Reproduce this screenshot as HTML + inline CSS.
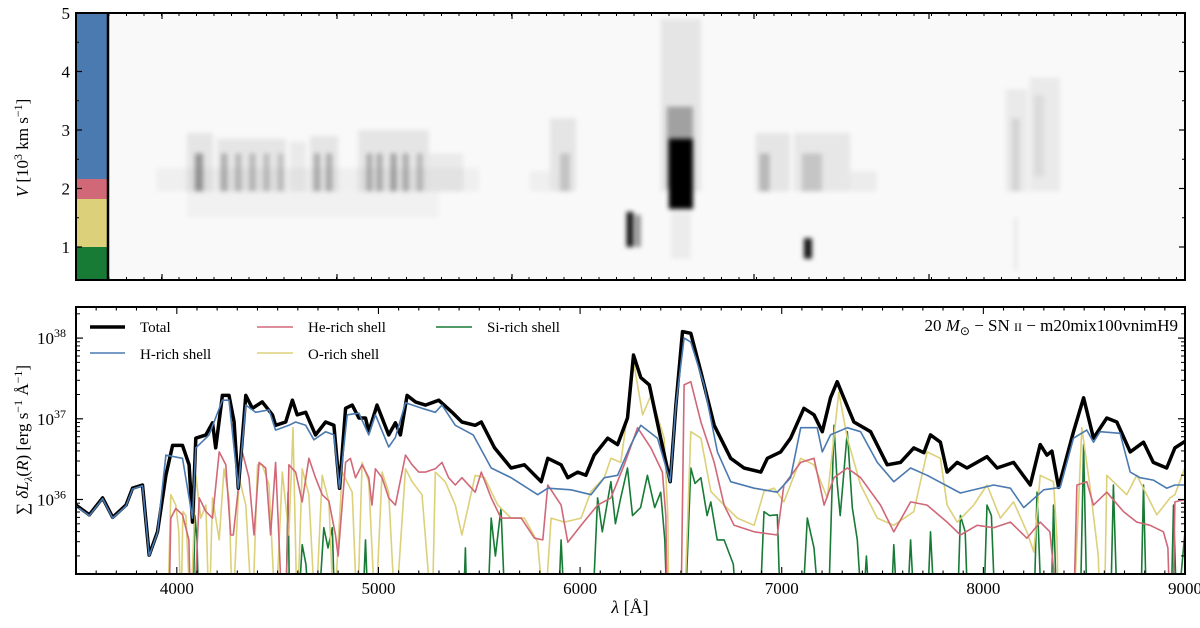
<!DOCTYPE html>
<html><head><meta charset="utf-8"><style>
html,body{margin:0;padding:0;background:#fff;}
svg{display:block;font-family:"Liberation Serif",serif;}
</style></head><body>
<svg id="fig" width="1200" height="628" viewBox="0 0 1200 628" xmlns="http://www.w3.org/2000/svg">
<defs>
<clipPath id="cpTop"><rect x="108" y="13" width="1077" height="267"/></clipPath>
<clipPath id="cpBot"><rect x="76" y="307" width="1109" height="267"/></clipPath>
<filter id="blur" filterUnits="userSpaceOnUse" x="0" y="0" width="1200" height="300"><feGaussianBlur stdDeviation="2.5"/></filter>
</defs>
<g id="top">
<rect x="76" y="13" width="1109" height="267" fill="#f9f9f9"/>
<g clip-path="url(#cpTop)"><g id="heat" filter="url(#blur)"></g></g>
<rect x="77" y="13" width="31" height="166" fill="#4a7ab0"/>
<rect x="77" y="179" width="31" height="20" fill="#d06878"/>
<rect x="77" y="199" width="31" height="48" fill="#ddd07a"/>
<rect x="77" y="247" width="31" height="33" fill="#177a35"/>
<line x1="108" y1="13" x2="108" y2="280" stroke="#000" stroke-width="2.5"/>
<g id="topTicks"></g>
<rect x="76" y="13" width="1109" height="267" fill="none" stroke="#000" stroke-width="2"/>
<text transform="translate(28,148) rotate(-90)" text-anchor="middle" font-size="17"><tspan font-style="italic">V</tspan> [10<tspan font-size="12" dy="-6">3</tspan><tspan dy="6"> km s</tspan><tspan font-size="12" dy="-6">−1</tspan><tspan dy="6">]</tspan></text>
</g>
<g id="bot">
<g id="series" clip-path="url(#cpBot)"></g>
<g id="botTicks"></g>
<rect x="76" y="307" width="1109" height="267" fill="none" stroke="#000" stroke-width="2"/>
<text x="630" y="613" text-anchor="middle" font-size="18"><tspan font-style="italic">λ</tspan> [Å]</text>
<text transform="translate(28,440) rotate(-90)" text-anchor="middle" font-size="17">∑ <tspan font-style="italic">δL</tspan><tspan font-size="11" dy="4" font-style="italic">λ</tspan><tspan dy="-4">(</tspan><tspan font-style="italic">R</tspan>) [erg s<tspan font-size="12" dy="-6">−1</tspan><tspan dy="6"> Å</tspan><tspan font-size="12" dy="-6">−1</tspan><tspan dy="6">]</tspan></text>
<text x="1178" y="331" text-anchor="end" font-size="17">20 <tspan font-style="italic">M</tspan><tspan font-size="12" dy="4">⊙</tspan><tspan dy="-4"> − SN </tspan><tspan font-size="12">II</tspan> − m20mix100vnimH9</text>
<g>
<g><line x1="90" y1="327" x2="125" y2="327" stroke="#000" stroke-width="3.5"/><text x="140" y="332" font-size="15">Total</text></g>
<g><line x1="90" y1="353" x2="125" y2="353" stroke="#4a7ab0" stroke-width="1.5"/><text x="140" y="359" font-size="15">H-rich shell</text></g>
<g><line x1="257" y1="327" x2="293" y2="327" stroke="#d06878" stroke-width="1.5"/><text x="308" y="332" font-size="15">He-rich shell</text></g>
<g><line x1="257" y1="353" x2="293" y2="353" stroke="#ddd07a" stroke-width="1.5"/><text x="308" y="359" font-size="15">O-rich shell</text></g>
<g><line x1="436" y1="327" x2="472" y2="327" stroke="#177a35" stroke-width="1.5"/><text x="487" y="332" font-size="15">Si-rich shell</text></g>
</g>
</g>
</svg>
<script>
const NS="http://www.w3.org/2000/svg";
// spectra: [wavelength Å, log10 luminosity]
const totalSeries=[[3500,35.93],[3566,35.81],[3632,36.02],[3682,35.78],[3748,35.93],[3780,36.14],[3830,36.18],[3863,35.31],[3904,35.60],[3946,36.30],[3979,36.67],[4028,36.67],[4061,36.43],[4078,35.72],[4094,36.76],[4144,36.80],[4177,36.95],[4193,36.64],[4226,37.29],[4259,37.29],[4284,36.96],[4305,36.14],[4342,37.29],[4375,37.13],[4424,37.21],[4474,37.05],[4490,36.92],[4540,36.96],[4573,37.23],[4597,37.05],[4639,37.08],[4688,36.80],[4738,36.96],[4779,36.92],[4807,36.14],[4837,37.13],[4870,37.17],[4903,37.01],[4936,37.01],[4952,36.84],[4993,37.17],[5018,37.01],[5051,36.80],[5084,36.95],[5109,36.80],[5142,37.29],[5183,37.21],[5233,37.17],[5266,37.20],[5299,37.23],[5365,37.08],[5414,36.96],[5480,36.92],[5510,36.96],[5576,36.64],[5658,36.39],[5724,36.43],[5807,36.22],[5840,36.51],[5906,36.43],[5939,36.27],[5988,36.34],[6029,36.30],[6070,36.55],[6137,36.76],[6186,36.68],[6235,37.01],[6265,37.79],[6301,37.51],[6343,37.42],[6400,36.76],[6447,36.22],[6475,37.17],[6508,38.08],[6549,38.06],[6599,37.58],[6665,36.92],[6747,36.51],[6813,36.39],[6896,36.34],[6929,36.51],[6995,36.59],[7044,36.76],[7110,37.13],[7160,37.05],[7201,36.84],[7242,37.26],[7275,37.46],[7308,37.26],[7358,36.96],[7441,36.84],[7523,36.43],[7589,36.46],[7655,36.64],[7705,36.58],[7738,36.80],[7787,36.71],[7820,36.34],[7870,36.46],[7919,36.39],[8018,36.53],[8068,36.39],[8150,36.46],[8233,36.18],[8282,36.68],[8315,36.55],[8340,36.60],[8373,36.15],[8447,36.84],[8497,37.26],[8546,36.76],[8612,37.01],[8662,36.96],[8728,36.59],[8794,36.71],[8843,36.46],[8909,36.39],[8950,36.64],[9000,36.72]];
const hRichSeries=[[3500,35.92],[3566,35.80],[3632,36.01],[3682,35.77],[3748,35.92],[3780,36.13],[3830,36.17],[3863,35.30],[3904,35.59],[3946,36.55],[4028,36.51],[4078,35.77],[4094,36.64],[4160,36.80],[4226,37.23],[4259,37.23],[4305,36.14],[4342,37.17],[4391,37.08],[4457,37.11],[4490,36.86],[4556,36.92],[4589,36.96],[4639,36.92],[4680,36.74],[4738,36.84],[4779,36.80],[4807,36.14],[4845,37.05],[4903,37.07],[4952,36.80],[4985,37.05],[5051,36.65],[5084,36.77],[5134,37.20],[5216,37.13],[5282,37.08],[5315,37.17],[5381,36.92],[5470,36.80],[5559,36.39],[5658,36.27],[5790,36.06],[5840,36.14],[5955,36.12],[6054,36.06],[6120,36.27],[6186,36.30],[6252,36.68],[6301,36.92],[6384,36.76],[6447,36.22],[6475,37.17],[6516,38.0],[6549,37.95],[6615,37.42],[6681,36.59],[6747,36.22],[6863,36.14],[6978,36.09],[7044,36.27],[7094,36.89],[7176,36.89],[7201,36.59],[7242,36.80],[7325,36.89],[7391,36.84],[7474,36.46],[7556,36.22],[7639,36.39],[7721,36.30],[7886,36.08],[8051,36.18],[8134,36.14],[8200,35.90],[8299,36.12],[8381,36.15],[8447,36.76],[8513,36.86],[8546,36.71],[8579,36.84],[8678,36.82],[8728,36.34],[8777,36.27],[8843,36.24],[8909,36.14],[8950,36.18],[9000,36.18]];
const heRichSeries=[[3960,34.5],[3970,35.77],[3995,35.89],[4028,35.81],[4060,35.5],[4069,34.5],[4085,34.5],[4111,36.02],[4144,35.85],[4177,35.77],[4210,36.59],[4243,36.43],[4267,35.56],[4280,35.56],[4325,36.59],[4358,36.27],[4383,35.56],[4408,36.46],[4441,36.39],[4465,35.56],[4490,36.46],[4510,35.3],[4523,34.5],[4540,34.5],[4556,36.43],[4589,36.34],[4622,35.97],[4655,36.51],[4688,36.27],[4721,36.06],[4754,35.98],[4787,35.56],[4800,35.3],[4837,36.46],[4861,36.51],[4886,36.27],[4919,36.43],[4952,36.27],[4968,35.93],[4985,36.38],[5018,36.27],[5051,36.02],[5084,35.93],[5134,36.55],[5167,36.43],[5200,36.34],[5233,36.34],[5282,36.38],[5315,36.46],[5348,36.27],[5381,36.18],[5414,36.27],[5480,36.09],[5510,36.34],[5559,36.02],[5608,35.77],[5708,35.77],[5774,35.52],[5815,35.50],[5840,36.18],[5906,35.93],[5939,35.47],[6005,35.68],[6087,35.93],[6153,36.02],[6219,36.43],[6285,36.89],[6351,36.64],[6408,36.34],[6425,35.8],[6433,34.5],[6500,34.5],[6516,37.42],[6549,37.46],[6599,36.96],[6665,36.46],[6714,35.93],[6764,35.68],[6863,35.60],[6978,35.56],[7011,36.18],[7094,36.46],[7160,36.51],[7210,35.93],[7259,36.27],[7325,36.39],[7391,36.27],[7490,35.93],[7556,35.60],[7639,35.97],[7721,35.93],[7820,35.72],[7886,35.56],[7969,35.68],[8051,35.65],[8134,35.72],[8216,35.52],[8282,35.72],[8330,35.6],[8373,34.5],[8447,34.5],[8464,36.18],[8513,36.22],[8546,35.93],[8612,36.09],[8695,35.85],[8761,35.72],[8827,35.68],[8893,35.60],[8915,35.4],[8926,34.5],[8940,34.5],[8950,35.97],[9000,36.0]];
const oRichSeries=[[3954,34.5],[3970,36.06],[3995,35.93],[4010,35.6],[4020,34.5],[4030,35.85],[4045,35.8],[4069,34.5],[4094,36.30],[4119,35.77],[4144,35.93],[4160,34.5],[4177,36.02],[4210,35.5],[4234,36.38],[4260,36.0],[4276,34.5],[4309,36.27],[4342,35.93],[4375,34.5],[4400,36.43],[4424,36.43],[4457,36.18],[4490,34.5],[4523,36.34],[4556,35.56],[4576,36.89],[4597,34.5],[4622,36.38],[4655,36.06],[4688,34.5],[4721,36.30],[4754,35.97],[4779,34.5],[4820,36.34],[4870,36.09],[4895,34.5],[4919,36.46],[4952,36.22],[4985,34.5],[5018,36.34],[5051,36.09],[5084,34.5],[5134,36.38],[5167,36.22],[5216,36.06],[5266,34.5],[5282,36.34],[5331,36.22],[5381,35.93],[5414,35.56],[5480,36.30],[5526,36.27],[5592,35.93],[5658,35.77],[5724,35.77],[5790,35.47],[5823,34.5],[5856,35.77],[5922,35.72],[6005,35.77],[6054,36.10],[6120,36.27],[6153,36.51],[6202,36.46],[6268,37.67],[6310,37.05],[6351,37.29],[6417,36.76],[6435,35.8],[6441,34.5],[6516,34.5],[6549,36.84],[6599,36.76],[6648,36.10],[6714,35.93],[6780,35.77],[6863,35.68],[6912,36.10],[6962,36.14],[7011,35.97],[7094,36.51],[7160,36.43],[7226,36.02],[7283,37.33],[7325,36.76],[7391,36.18],[7474,35.77],[7556,35.68],[7655,35.85],[7721,36.59],[7787,36.51],[7820,35.93],[7870,35.72],[7952,35.93],[8018,36.18],[8084,35.77],[8150,35.97],[8216,35.60],[8250,35.35],[8282,36.30],[8348,36.22],[8365,35.5],[8373,34.5],[8447,34.5],[8488,36.89],[8530,36.14],[8570,35.3],[8579,34.5],[8600,34.5],[8612,36.30],[8711,36.06],[8761,36.30],[8810,36.06],[8860,35.81],[8926,36.02],[8950,36.06],[9000,36.4]];
const siRichSeries=[[4080,34.5],[4090,35.8],[4100,35.5],[4110,34.5],[4540,34.5],[4552,36.09],[4560,34.5],[4600,34.5],[4622,35.44],[4640,35.2],[4660,34.5],[4700,34.5],[4729,35.65],[4750,35.4],[4771,35.65],[4785,34.5],[4920,34.5],[4936,35.5],[4950,34.5],[5420,34.5],[5431,35.4],[5440,34.5],[5540,34.5],[5559,35.77],[5580,35.3],[5608,35.89],[5630,34.5],[5890,34.5],[5906,35.5],[5925,34.5],[6060,34.5],[6087,36.02],[6110,35.6],[6153,36.22],[6175,35.7],[6200,36.0],[6235,36.39],[6260,35.8],[6300,35.9],[6334,36.30],[6370,35.9],[6400,36.09],[6420,35.5],[6433,34.5],[6520,34.5],[6549,36.39],[6570,36.2],[6599,36.27],[6630,35.8],[6648,35.97],[6680,35.5],[6714,35.5],[6760,35.2],[6780,34.5],[6890,34.5],[6912,35.85],[6940,35.8],[6978,35.81],[6995,34.5],[7100,34.5],[7127,35.77],[7160,35.4],[7190,34.5],[7230,34.5],[7259,36.92],[7275,36.2],[7290,35.8],[7325,36.84],[7350,35.9],[7375,35.5],[7400,34.5],[7420,35.3],[7440,34.5],[7540,34.5],[7556,35.44],[7575,34.5],[7620,34.5],[7639,35.5],[7660,34.5],[7720,34.5],[7738,35.6],[7760,34.5],[7870,34.5],[7886,35.8],[7910,35.6],[7925,34.5],[8000,34.5],[8018,35.93],[8040,35.8],[8060,34.5],[8250,34.5],[8266,36.09],[8290,34.5],[8335,34.5],[8348,35.93],[8365,34.5],[8480,34.5],[8497,36.68],[8515,34.5],[8630,34.5],[8645,36.18],[8665,34.5],[8780,34.5],[8794,36.18],[8810,34.5],[8930,34.5],[8943,35.93],[8960,34.5],[9000,35.6]];
const xTicks=[4000,5000,6000,7000,8000,9000];
const yDecades=[36,37,38];
const vTicks=[1,2,3,4,5];
// heatmap blobs: lambda start/end, V low/high, intensity
const blobLam0=[3900,4050,4090,4200,4220,4290,4360,4430,4500,4560,4660,4680,4740,4900,4940,4990,5060,5120,5190,5250,4050,5750,5850,5900,6230,6275,6400,6430,6440,6450,6870,6890,7060,7100,7340,7110,8110,8140,8230,8250,8150];
const blobLam1=[5500,4180,4130,4540,4250,4320,4390,4460,4530,4640,4800,4710,4770,5250,4970,5020,5090,5150,5220,5420,5300,5850,5980,5950,6265,6300,6600,6560,6560,6550,7040,6940,7340,7200,7470,7150,8220,8180,8380,8300,8170];
const blobV0=[1.95,1.95,1.95,1.95,1.95,1.95,1.95,1.95,1.95,1.95,1.95,1.95,1.95,1.95,1.95,1.95,1.95,1.95,1.95,1.95,1.5,1.95,1.95,1.95,1.0,1.0,1.95,2.0,1.65,0.8,1.95,1.95,1.95,1.95,1.95,0.8,1.95,1.95,1.95,2.2,0.6];
const blobV1=[2.35,2.95,2.6,2.85,2.6,2.6,2.6,2.6,2.6,2.8,2.9,2.6,2.6,3.0,2.6,2.6,2.6,2.6,2.6,2.6,1.95,2.3,3.2,2.6,1.6,1.55,4.9,3.4,2.85,1.6,2.95,2.6,2.95,2.6,2.3,1.15,3.7,3.2,3.9,3.6,1.5];
const blobI=[0.04,0.08,0.35,0.08,0.25,0.2,0.2,0.18,0.16,0.06,0.08,0.25,0.25,0.08,0.25,0.25,0.3,0.25,0.2,0.06,0.03,0.04,0.08,0.15,0.9,0.45,0.08,0.3,1.0,0.05,0.08,0.2,0.07,0.15,0.05,0.9,0.06,0.1,0.06,0.07,0.06];

const X=l=>76+(l-3500)*1109/5500;
const Y=v=>499.5-(v-36)*80.7;
const VY=v=>247-(v-1)*58.5;
function mk(tag,attrs,parent){const e=document.createElementNS(NS,tag);for(const k in attrs)e.setAttribute(k,attrs[k]);parent.appendChild(e);return e;}

const heat=document.getElementById('heat');
for(let i=0;i<blobLam0.length;i++){
  const x0=X(blobLam0[i]),x1=X(blobLam1[i]),y0=VY(blobV1[i]),y1=VY(blobV0[i]);
  const r=mk('rect',{x:x0,y:y0,width:x1-x0,height:y1-y0,fill:'#000','fill-opacity':blobI[i]},heat);
  
  
}

const tt=document.getElementById('topTicks');
for(const v of vTicks){
  const y=VY(v);
  const t=mk('text',{x:70,y:y+6,'text-anchor':'end','font-size':17},tt);t.textContent=v;
  
  
  mk('line',{x1:76,y1:y,x2:82,y2:y,stroke:'#000','stroke-width':1.2},tt);
  mk('line',{x1:1185,y1:y,x2:1179,y2:y,stroke:'#000','stroke-width':1.2},tt);
  if(v<5){mk('line',{x1:76,y1:y-29.25,x2:79,y2:y-29.25,stroke:'#000'},tt);mk('line',{x1:1185,y1:y-29.25,x2:1182,y2:y-29.25,stroke:'#000'},tt);}
}
for(let x=109;x<1185;x+=17.5){mk('line',{x1:x,y1:13,x2:x,y2:16,stroke:'#000'},tt);mk('line',{x1:x,y1:280,x2:x,y2:277,stroke:'#000'},tt);}
for(const x of [162,337,512,754,929]){mk('line',{x1:x,y1:13,x2:x,y2:19,stroke:'#000','stroke-width':1.2},tt);mk('line',{x1:x,y1:280,x2:x,y2:274,stroke:'#000','stroke-width':1.2},tt);}

const bt=document.getElementById('botTicks');
for(let l=3600;l<9000;l+=100){const x=X(l);const maj=l%1000===0;const h=maj?7:3.5;
  mk('line',{x1:x,y1:574,x2:x,y2:574-h,stroke:'#000','stroke-width':1.1},bt);mk('line',{x1:x,y1:307,x2:x,y2:307+h,stroke:'#000','stroke-width':1.1},bt);}
for(const l of xTicks){const t=mk('text',{x:X(l),y:594,'text-anchor':'middle','font-size':17},bt);t.textContent=l;
  
  }
for(const d of yDecades){const y=Y(d);
  mk('line',{x1:76,y1:y,x2:83,y2:y,stroke:'#000','stroke-width':1.2},bt);mk('line',{x1:1185,y1:y,x2:1178,y2:y,stroke:'#000','stroke-width':1.2},bt);
  const t=mk('text',{x:37,y:y+6,'font-size':17},bt);t.innerHTML='10<tspan font-size="12" dy="-7">'+d+'</tspan>';
  
  }
for(let d=35;d<=38;d++)for(let m=2;m<10;m++){const y=Y(d+Math.log10(m));if(y<307||y>574)continue;
  mk('line',{x1:76,y1:y,x2:80,y2:y,stroke:'#000'},bt);mk('line',{x1:1185,y1:y,x2:1181,y2:y,stroke:'#000'},bt);}

const sg=document.getElementById('series');
function draw(data,color,w,name){const p=mk('path',{d:data.map((p,i)=>(i?'L':'M')+X(p[0]).toFixed(1)+','+Y(p[1]).toFixed(1)).join(''),fill:'none',stroke:color,'stroke-width':w,'stroke-linejoin':'round'},sg);
  
  }
draw(siRichSeries,'#177a35',1.6,'si-rich-line');
draw(oRichSeries,'#ddd07a',1.6,'o-rich-line');
draw(heRichSeries,'#d06878',1.6,'he-rich-line');
draw(totalSeries,'#000',3.5,'total-line');
draw(hRichSeries,'#4a7ab0',1.6,'h-rich-line');
</script>
</body></html>
